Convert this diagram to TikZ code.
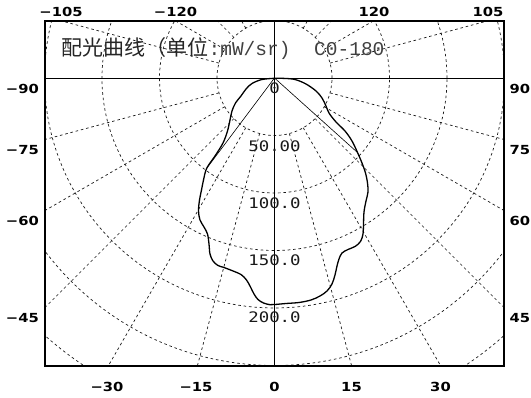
\documentclass[tikz,border=0pt]{standalone}
\usepackage{fontspec}
\usepackage{graphicx}
\newfontfamily\cjkfont{Noto Sans CJK SC}
\newfontfamily\monofont{Liberation Mono}
\newfontfamily\labfont{DejaVu Sans}
\newfontfamily\numfont{DejaVu Sans Mono}
\newcommand\hstretch[2]{\scalebox{#1}[1]{#2}}
\begin{document}
\begin{tikzpicture}[x=1pt,y=-1pt,
  gridline/.style={black!90,line width=0.7pt,dash pattern=on 2.6pt off 2.8pt},
  axisline/.style={black,line width=0.8pt},
  framebox/.style={black,line width=1.1pt},
  beamline/.style={black,line width=0.6pt},
  curveline/.style={black,line width=1.3pt,line join=round},
  anglab/.style={inner sep=0pt,text=black,font=\fontsize{12.5}{14}\labfont\bfseries},
  radlab/.style={inner sep=0pt,text=black!90,font=\fontsize{14.5}{16}\numfont},
  titlecjk/.style={inner sep=0pt,anchor=base west,text=black!85,font=\fontsize{21}{24}\cjkfont},
  titlemono/.style={inner sep=0pt,anchor=base west,text=black!75,font=\fontsize{19.5}{22}\monofont}]
\useasboundingbox (0,0) rectangle (531,398);
\coordinate (O) at (274.5,78);
\coordinate (FL) at (45,78);
\coordinate (FR) at (504,78);
\coordinate (FT) at (274.5,21);
\coordinate (FB) at (274.5,366);
\coordinate (bl) at (206.7,168.3);
\coordinate (br) at (357.5,152.5);
% grid
\begin{scope}
\clip (45,21) rectangle (504,366);
\foreach \k in {1,...,6}
  \draw[gridline] (O) circle[radius={57.5pt*\k}];
\foreach \a in {15,30,45,60,75,105,120,135,150,165,-15,-30,-45,-60,-75,-105,-120,-135,-150,-165}
  \draw[gridline] ({274.5+57.5*sin(\a)},{78+57.5*cos(\a)}) -- ({274.5+420*sin(\a)},{78+420*cos(\a)});
\end{scope}
% axes and frame
\draw[axisline] (FL) -- (FR);
\draw[axisline] (FT) -- (FB);
\draw[framebox] (45,21) rectangle (504,366);
% title
\node[titlecjk] (tcjk) at (61,55.5) {配光曲线（单位};
\node[titlemono] (tunit) at (tcjk.base east) {:mW/sr)};
\node[titlemono] (tplane) at (314,55.5) {C0-180};
% angle labels
\node[anglab] (am105) at (61,11.5) {\hstretch{1.18}{−105}};
\node[anglab] (am120) at (175.5,11.5) {\hstretch{1.18}{−120}};
\node[anglab] (ap120) at (374,11.5) {\hstretch{1.18}{120}};
\node[anglab] (ap105) at (488,11.5) {\hstretch{1.18}{105}};
\node[anglab,anchor=east] (am90) at (39,89) {\hstretch{1.18}{−90}};
\node[anglab,anchor=east] (am75) at (39,150) {\hstretch{1.18}{−75}};
\node[anglab,anchor=east] (am60) at (39,221) {\hstretch{1.18}{−60}};
\node[anglab,anchor=east] (am45) at (39,318) {\hstretch{1.18}{−45}};
\node[anglab,anchor=west] (ap90) at (509.5,88.5) {\hstretch{1.18}{90}};
\node[anglab,anchor=west] (ap75) at (509.5,150) {\hstretch{1.18}{75}};
\node[anglab,anchor=west] (ap60) at (509.5,221) {\hstretch{1.18}{60}};
\node[anglab,anchor=west] (ap45) at (509.5,318) {\hstretch{1.18}{45}};
\node[anglab] (bm30) at (107,386.7) {\hstretch{1.18}{−30}};
\node[anglab] (bm15) at (196,386.7) {\hstretch{1.18}{−15}};
\node[anglab] (b0) at (274.5,386.7) {\hstretch{1.18}{0}};
\node[anglab] (bp15) at (351.5,386.7) {\hstretch{1.18}{15}};
\node[anglab] (bp30) at (440.5,386.7) {\hstretch{1.18}{30}};
% radial value labels
\node[radlab] (r0) at (274.5,88) {\hstretch{1.2}{0}};
\node[radlab] (r50) at (274.5,146.5) {\hstretch{1.2}{50.00}};
\node[radlab] (r100) at (274.5,203.5) {\hstretch{1.2}{100.0}};
\node[radlab] (r150) at (274.5,260.5) {\hstretch{1.2}{150.0}};
\node[radlab] (r200) at (274.5,317.5) {\hstretch{1.2}{200.0}};
% beam lines
\draw[beamline] (O) -- (bl);
\draw[beamline] (O) -- (br);
% intensity curve
\draw[curveline] plot[smooth,tension=0.55] coordinates {
(274.5,78.3) (262,79.5) (252,83.5) (246,89) (241,96) (235.5,103) (232,111)
(230,120) (227.5,131) (223,143) (215,156) (206.7,168.3) (203.5,180) (201.5,190)
(199.5,200) (198.5,211) (200,220) (204,227) (207.5,234) (209,244) (210,254)
(213,261) (218,265.5) (224,267.5) (233,271) (241,274.5) (246.5,280) (250.5,287)
(254,294) (258,299.5) (263.5,303) (270,304.7) (275,304.5) (286,303.5) (299,302.5)
(311,300) (320,296) (327,291) (332,284) (335,275) (337,266) (339,259) (342,253)
(348,249.5) (355,246.5) (360.5,241.5) (363,234) (363.5,224) (364,212) (366,201)
(368,192) (367.5,183) (365.5,173) (362,163) (357.5,152.5) (352,141) (345,131)
(336,122) (329,113) (326,106) (322,98) (316,91) (306,84) (295,79.5) (284,78.4)
(274.5,78.3)};
\end{tikzpicture}
\end{document}
